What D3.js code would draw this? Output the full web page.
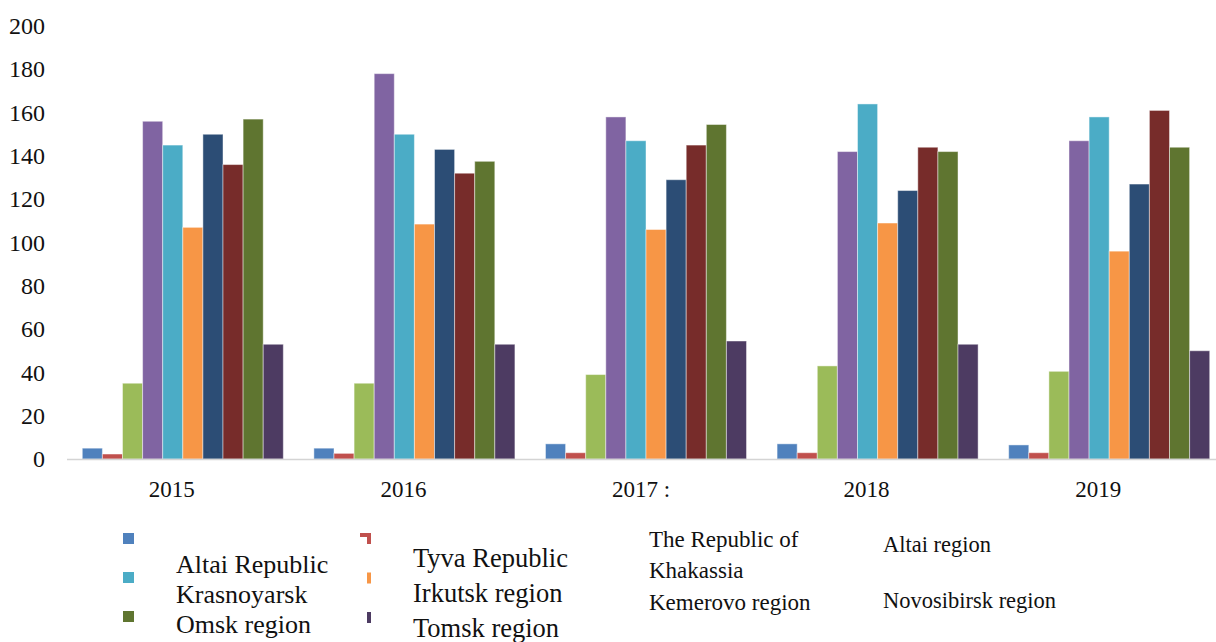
<!DOCTYPE html>
<html>
<head>
<meta charset="utf-8">
<script src="https://cdn.jsdelivr.net/npm/d3@7"></script>
<style>
  body { margin: 0; background: #fff; }
</style>
</head>
<body>
<div id="chart"></div>
<script>
// data
var years = ["2015", "2016", "2017", "2018", "2019"];
var yearLabels = ["2015", "2016", "2017 :", "2018", "2019"];
var regions = ["Altai Republic", "Tyva Republic", "The Republic of Khakassia", "Altai region",
  "Krasnoyarsk", "Irkutsk region", "Kemerovo region", "Novosibirsk region", "Omsk region", "Tomsk region"];
var colors = ["#4f81bd", "#c0504d", "#9bbb59", "#8064a2", "#4bacc6", "#f79646",
  "#2c4d75", "#772c2a", "#5f7530", "#4d3b62"];

var v2015 = [5, 2.3, 35, 156, 145, 107, 150, 136, 157, 53];
var v2016 = [5, 2.6, 35, 178, 150, 108.5, 143, 132, 137.5, 53];
var v2017 = [7, 2.9, 39, 158, 147, 106, 129, 145, 154.5, 54.5];
var v2018 = [7, 2.9, 43, 142, 164, 109, 124, 144, 142, 53];
var v2019 = [6.5, 2.9, 40.5, 147, 158, 96, 127, 161, 144, 50];
var yTicks = [0, 20, 40, 60, 80, 100, 120, 140, 160, 180, 200];

var values = [v2015, v2016, v2017, v2018, v2019];

var width = 1216, height = 642;
var serif = "'Liberation Serif'";

var svg = d3.select("#chart")
    .append("svg")
    .attr("width", width)
    .attr("height", height);

var x = d3.scaleBand()
    .domain(years)
    .range([67, 1225])
    .paddingInner(0.132)
    .paddingOuter(0.066);

var xi = d3.scaleBand()
    .domain(d3.range(regions.length))
    .range([0, x.bandwidth()]);

var y = d3.scaleLinear()
    .domain([0, 200])
    .range([459, 26]);

// y axis labels, no line
var yAxis = svg.append("g")
    .attr("transform", "translate(45,0)")
    .call(d3.axisLeft(y).tickValues(yTicks).tickSize(0).tickPadding(0));
yAxis.select(".domain").remove();
yAxis.selectAll("text")
    .style("font-family", serif)
    .style("font-size", "24px")
    .attr("fill", "#111");

// bars
var groups = svg.selectAll(".year")
    .data(years)
    .enter().append("g")
    .attr("class", "year")
    .attr("transform", function (d) { return "translate(" + x(d) + ",0)"; });

groups.selectAll("rect")
    .data(function (d, i) { return values[i].map(function (v, j) { return { s: j, v: v }; }); })
    .enter().append("rect")
    .attr("x", function (d) { return xi(d.s); })
    .attr("width", xi.bandwidth())
    .attr("y", function (d) { return y(d.v); })
    .attr("height", function (d) { return y(0) - y(d.v); })
    .attr("fill", function (d) { return colors[d.s]; })
    .attr("stroke", "#ffffff")
    .attr("stroke-opacity", 0.45)
    .attr("stroke-width", 1);

// x axis
svg.append("line")
    .attr("x1", 67).attr("x2", width)
    .attr("y1", y(0) + 0.5).attr("y2", y(0) + 0.5)
    .attr("stroke", "#d4d4d4")
    .attr("stroke-width", 1.5);

var xAxis = svg.append("g")
    .attr("transform", "translate(0," + y(0) + ")")
    .call(d3.axisBottom(x).tickSize(0).tickPadding(0)
        .tickFormat(function (d, i) { return yearLabels[i]; }));
xAxis.select(".domain").remove();
xAxis.selectAll("text")
    .style("font-family", serif)
    .style("font-size", "23px")
    .attr("fill", "#111")
    .attr("text-anchor", "start")
    .attr("dx", -34)
    .attr("dy", 0)
    .attr("y", 38);

// legend (as it appears in the original, partly clipped)
var legend = svg.append("g");

[0, 4, 8].forEach(function (s, k) {
    legend.append("rect")
        .attr("x", 123).attr("y", 533 + k * 39)
        .attr("width", 11).attr("height", 11)
        .attr("fill", colors[s]);
});
[1, 5, 9].forEach(function (s, k) {
    legend.append("rect")
        .attr("x", 360).attr("y", 533 + k * 39.5)
        .attr("width", 11).attr("height", 11)
        .attr("fill", colors[s]);
});
legend.append("rect")
    .attr("x", 350).attr("y", 537)
    .attr("width", 17).attr("height", 100)
    .attr("fill", "#fff");

function legendText(str, lx, ly, size) {
    legend.append("text")
        .attr("x", lx).attr("y", ly)
        .style("font-family", serif)
        .style("font-size", size + "px")
        .attr("fill", "#111")
        .text(str);
}

legendText(regions[0], 176, 573, 26);
legendText(regions[4], 176, 603, 26);
legendText(regions[8], 176, 633, 26);
legendText(regions[1], 413, 567, 26.5);
legendText(regions[5], 413, 602, 26.5);
legendText(regions[9], 413, 637, 26.5);
legendText("The Republic of", 649, 547, 23);
legendText("Khakassia", 649, 578, 23);
legendText(regions[6], 649, 610, 23);
legendText(regions[3], 883, 552, 22.5);
legendText(regions[7], 883, 608, 22.5);
</script>
</body>
</html>
